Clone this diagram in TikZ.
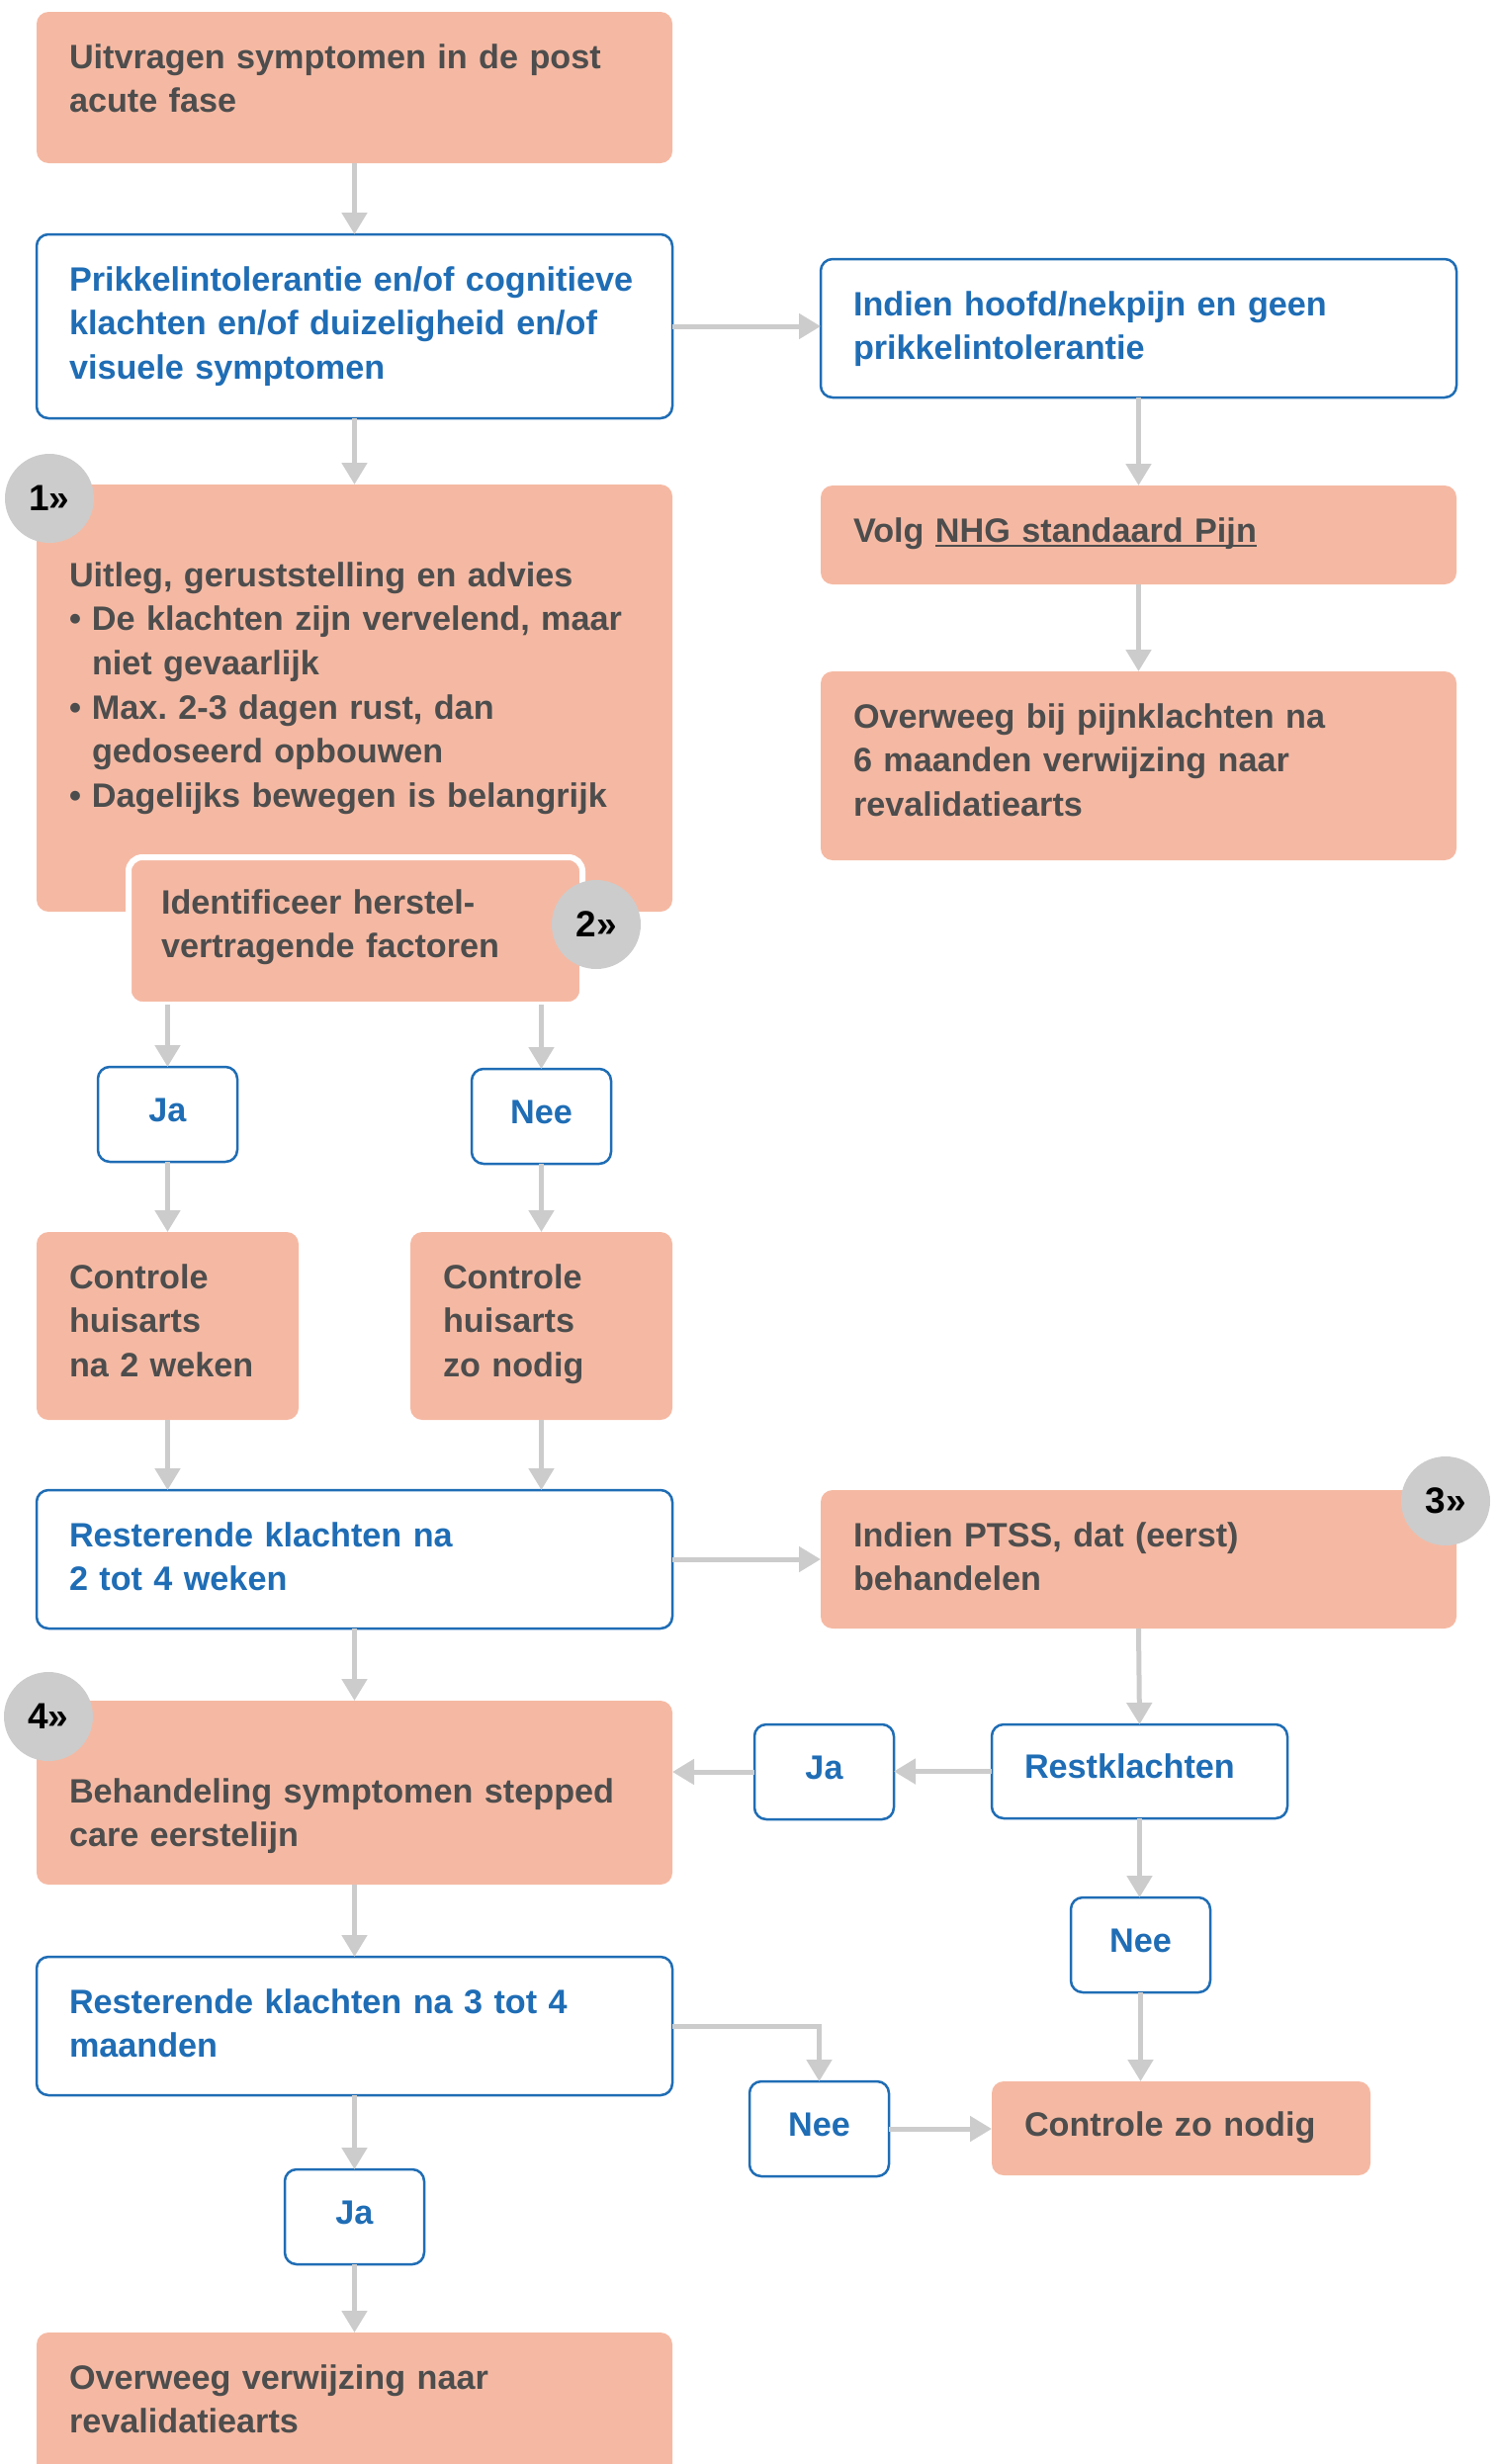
\documentclass[tikz,border=0pt]{standalone}
\usepackage{fontspec}
\setmainfont{Liberation Sans}
\usetikzlibrary{arrows.meta}
\definecolor{flowsalmon}{HTML}{F5B9A3}
\definecolor{flowblue}{HTML}{1F6DB5}
\definecolor{flowgray}{HTML}{4D4D4D}
\definecolor{flowline}{HTML}{CCCCCC}
\newcommand{\flowfont}{\fontsize{34.2}{44.7}\selectfont\bfseries}
\newcommand{\flowitem}{\par\hangindent=23pt\hangafter=1\makebox[23pt][l]{\textbullet}}
\newcommand{\flowul}[1]{\leavevmode\setbox0=\hbox{#1}\rlap{\rule[-5pt]{\wd0}{2.2pt}}\box0}

\begin{document}
\begin{tikzpicture}[x=1pt, y=-1pt,
	basebox/.style={anchor=north west, rounded corners=12pt, inner xsep=33pt, inner ysep=0pt, outer sep=0pt, text height=57pt, align=left, font=\flowfont},
	salmonbox/.style 2 args={basebox, fill=flowsalmon, text=flowgray, text width=#1, text depth=#2},
	bluebox/.style 2 args={basebox, draw=flowblue, line width=2.5pt, fill=white, text=flowblue, text width=#1, text depth=#2},
	answer/.style={anchor=north west, rounded corners=12pt, draw=flowblue, line width=2.5pt, fill=white, text=flowblue, font=\flowfont, minimum width=141pt, minimum height=96pt, inner sep=0pt, outer sep=0pt, text height=25pt, text depth=10pt},
	badge/.style={circle, fill=flowline, minimum size=90pt, inner sep=0pt, text=black, font=\fontsize{37}{44}\selectfont\bfseries},
	flowarrow/.style={draw=flowline, line width=5pt, -{Triangle[width=25pt,length=22pt]}}]
	\useasboundingbox (0,0) rectangle (1515,2492);
	\node[salmonbox={577pt}{96pt}] (uitvragen) at (37,12) {Uitvragen symptomen in de post\\acute fase};
	\node[bluebox={577pt}{129pt}] (prikkel) at (37,237) {Prikkelintolerantie en/of cognitieve\\klachten en/of duizeligheid en/of\\visuele symptomen};
	\node[bluebox={577pt}{83pt}] (hoofdpijn) at (830,262) {Indien hoofd/nekpijn en geen\\prikkelintolerantie};
	\node[salmonbox={577pt}{43pt}] (nhg) at (830,491) {Volg \flowul{NHG standaard Pijn}};
	\node[salmonbox={577pt}{134pt}] (pijnklachten) at (830,679) {Overweeg bij pijnklachten na\\6 maanden verwijzing naar\\revalidatiearts};
	\node[salmonbox={577pt}{329pt}, text height=103pt] (uitleg) at (37,490) {Uitleg, geruststelling en advies
		\flowitem De klachten zijn vervelend, maar\newline niet gevaarlijk
		\flowitem Max.\ 2-3 dagen rust, dan\newline gedoseerd opbouwen
		\flowitem Dagelijks bewegen is belangrijk};
	\node[badge] (step1) at (50,504) {1»};
	\node[salmonbox={393pt}{92pt}, draw=white, line width=6pt, rounded corners=14pt] (herstel) at (130,867) {Identificeer herstel-\\vertragende factoren};
	\node[badge] (step2) at (603,935) {2»};
	\node[answer] (ja1) at (99,1079) {Ja};
	\node[answer] (nee1) at (477,1081) {Nee};
	\node[salmonbox={199pt}{133pt}] (controle1) at (37,1246) {Controle\\huisarts\\na 2 weken};
	\node[salmonbox={199pt}{133pt}] (controle2) at (415,1246) {Controle\\huisarts\\zo nodig};
	\node[bluebox={577pt}{83pt}] (rest1) at (37,1507) {Resterende klachten na\\2 tot 4 weken};
	\node[salmonbox={577pt}{83pt}] (ptss) at (830,1507) {Indien PTSS, dat (eerst)\\behandelen};
	\node[badge] (step3) at (1462,1518) {3»};
	\node[salmonbox={577pt}{83pt}, text height=103pt] (stepped) at (37,1720) {Behandeling symptomen stepped\\care eerstelijn};
	\node[badge] (step4) at (49,1736) {4»};
	\node[answer] (ja2) at (763,1744) {Ja};
	\node[bluebox={233pt}{41pt}, text height=54pt] (restklachten) at (1003,1744) {Restklachten};
	\node[answer] (nee2) at (1083,1919) {Nee};
	\node[bluebox={577pt}{83pt}] (rest2) at (37,1979) {Resterende klachten na 3 tot 4\\maanden};
	\node[answer] (nee3) at (758,2105) {Nee};
	\node[salmonbox={317pt}{40pt}, text height=55pt] (zonodig) at (1003,2105) {Controle zo nodig};
	\node[answer] (ja3) at (288,2194) {Ja};
	\node[salmonbox={577pt}{103pt}] (verwijzing) at (37,2359) {Overweeg verwijzing naar\\revalidatiearts};
	\draw[flowarrow] (uitvragen.south) -- (prikkel.north);
	\draw[flowarrow] (prikkel.east) -- (prikkel.east -| hoofdpijn.west);
	\draw[flowarrow] (prikkel.south) -- (uitleg.north);
	\draw[flowarrow] (hoofdpijn.south) -- (nhg.north);
	\draw[flowarrow] (nhg.south) -- (pijnklachten.north);
	\draw[flowarrow] (ja1.north |- herstel.south) -- (ja1.north);
	\draw[flowarrow] (nee1.north |- herstel.south) -- (nee1.north);
	\draw[flowarrow] (ja1.south) -- (controle1.north);
	\draw[flowarrow] (nee1.south) -- (controle2.north);
	\draw[flowarrow] (controle1.south) -- (controle1.south |- rest1.north);
	\draw[flowarrow] (controle2.south) -- (controle2.south |- rest1.north);
	\draw[flowarrow] (rest1.east) -- (rest1.east -| ptss.west);
	\draw[flowarrow] (rest1.south) -- (stepped.north);
	\draw[flowarrow] (ptss.south) -- (restklachten.north);
	\draw[flowarrow] (restklachten.west) -- (restklachten.west -| ja2.east);
	\draw[flowarrow] (ja2.west) -- (ja2.west -| stepped.east);
	\draw[flowarrow] (restklachten.south) -- (restklachten.south |- nee2.north);
	\draw[flowarrow] (nee2.south) -- (nee2.south |- zonodig.north);
	\draw[flowarrow] (stepped.south) -- (rest2.north);
	\draw[flowarrow] (rest2.east) -| (nee3.north);
	\draw[flowarrow] (nee3.east) -- (nee3.east -| zonodig.west);
	\draw[flowarrow] (rest2.south) -- (ja3.north);
	\draw[flowarrow] (ja3.south) -- (verwijzing.north);
\end{tikzpicture}
\end{document}
